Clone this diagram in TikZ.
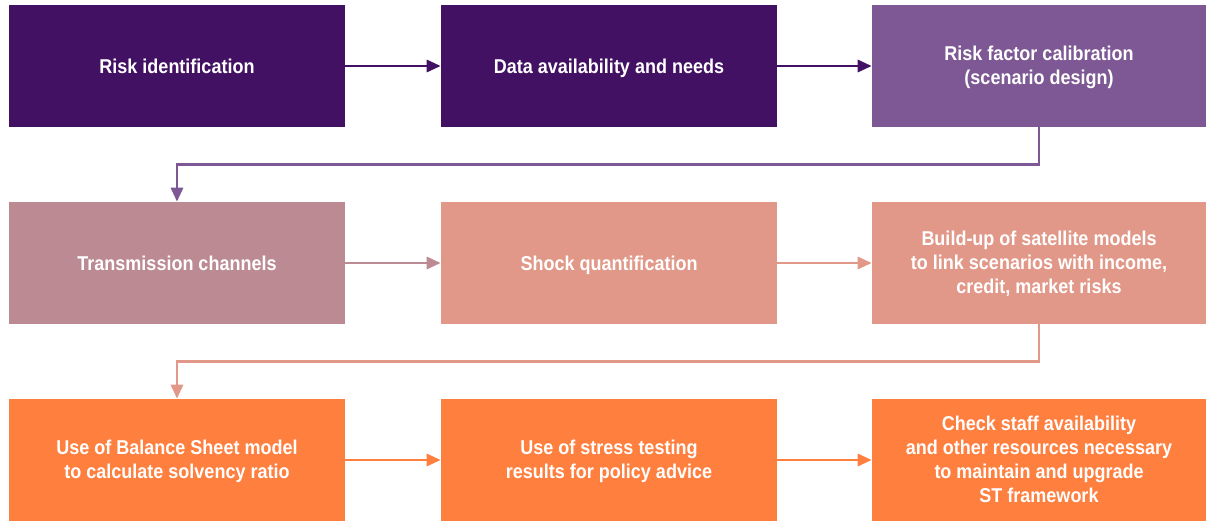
\documentclass[tikz,border=0pt]{standalone}
\usepackage{fontspec}
\setmainfont{Liberation Sans}[FakeStretch=0.9]
\usetikzlibrary{arrows.meta}
\definecolor{cdark}{HTML}{431163}
\definecolor{cpurple}{HTML}{7D5894}
\definecolor{cmauve}{HTML}{BC8A93}
\definecolor{csalmon}{HTML}{E19888}
\definecolor{corange}{HTML}{FF7F3F}
\tikzset{
  boxtext/.style={inner sep=0pt, align=center, text=white,
    font=\fontsize{15pt}{18pt}\selectfont\bfseries, yshift=-2.25pt,
    execute at begin node={\strut}, execute at end node={\strut}},
  box/.style={rectangle, draw=none, minimum width=252pt, minimum height=91.5pt,
    inner sep=0pt, label={[boxtext]center:{#1}}},
  conn/.style={line width=2.2pt, -{Triangle[length=10.5pt,width=9pt]}},
}
\begin{document}
\begin{tikzpicture}[x=0.75pt,y=-0.75pt]
\useasboundingbox (0,0) rectangle (1206,521);
\node[box={Risk identification}, fill=cdark] (a1) at (177,66) {};
\node[box={Data availability and needs}, fill=cdark] (a2) at (609,66) {};
\node[box={Risk factor calibration\\(scenario design)}, fill=cpurple, minimum width=250.5pt] (a3) at (1039,66) {};
\node[box={Transmission channels}, fill=cmauve] (b1) at (177,263) {};
\node[box={Shock quantification}, fill=csalmon] (b2) at (609,263) {};
\node[box={Build-up of satellite models\\to link scenarios with income,\\credit, market risks}, fill=csalmon, minimum width=250.5pt] (b3) at (1039,263) {};
\node[box={Use of Balance Sheet model\\to calculate solvency ratio}, fill=corange] (c1) at (177,460) {};
\node[box={Use of stress testing\\results for policy advice}, fill=corange] (c2) at (609,460) {};
\node[box={Check staff availability\\and other resources necessary\\to maintain and upgrade\\ST framework}, fill=corange, minimum width=250.5pt] (c3) at (1039,460) {};
\draw[conn, cdark] (a1) -- (a2);
\draw[conn, cdark] (a2) -- (a3);
\draw[conn, cpurple] (a3.south) -- ++(0,37.5) -| (b1.north);
\draw[conn, cmauve] (b1) -- (b2);
\draw[conn, csalmon] (b2) -- (b3);
\draw[conn, csalmon] (b3.south) -- ++(0,37.5) -| (c1.north);
\draw[conn, corange] (c1) -- (c2);
\draw[conn, corange] (c2) -- (c3);
\end{tikzpicture}
\end{document}
